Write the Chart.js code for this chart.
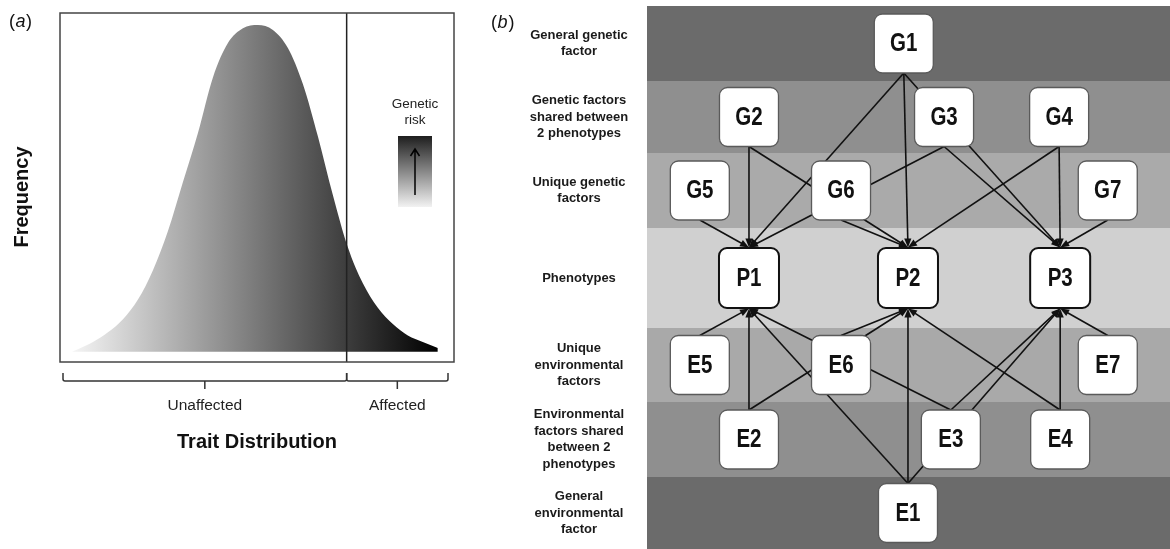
<!DOCTYPE html>
<html>
<head>
<meta charset="utf-8">
<title>Trait distribution and factor model</title>
<script src="https://cdn.jsdelivr.net/npm/chart.js"></script>
<style>
  body { margin: 0; background: #fff; }
  #wrap { position: relative; width: 1170px; height: 549px; overflow: hidden; }
  #chartA { position: absolute; left: 0; top: 0; }
  #chartB { position: absolute; left: 480px; top: 0; }
</style>
</head>
<body>
<div id="wrap">
  <canvas id="chartA" width="470" height="549"></canvas>
  <canvas id="chartB" width="690" height="549"></canvas>
</div>
<script>
/* panel (a) - trait distribution (z units, peak = 1) */
var traitZ    = [-3.1, -3.0, -2.75, -2.5, -2.25, -2.0, -1.75, -1.5, -1.25, -1.0, -0.75, -0.5, -0.25, 0,
                 0.25, 0.5, 0.75, 1.0, 1.25, 1.5, 1.75, 2.0, 2.25, 2.5, 2.75, 3.0];
var frequency = [0, 0.008, 0.03, 0.06, 0.10, 0.16, 0.25, 0.37, 0.52, 0.67, 0.84, 0.945, 0.99, 1.0,
                 0.985, 0.93, 0.82, 0.66, 0.48, 0.32, 0.21, 0.135, 0.085, 0.05, 0.03, 0.012];
var threshold = 1.48;
var groupLabels = ['Unaffected', 'Affected'];

/* panel (b) - factor model */
var bandLabels = [
  ['General genetic', 'factor'],
  ['Genetic factors', 'shared between', '2 phenotypes'],
  ['Unique genetic', 'factors'],
  ['Phenotypes'],
  ['Unique', 'environmental', 'factors'],
  ['Environmental', 'factors shared', 'between 2', 'phenotypes'],
  ['General', 'environmental', 'factor']
];
var bandHeights = [75, 72, 75, 100, 74, 75, 72];
var bandColors = ['#6b6b6b', '#8f8f8f', '#aaaaaa', '#d0d0d0', '#a9a9a9', '#8f8f8f', '#6b6b6b'];

var nodeNames = ['G1', 'G2', 'G3', 'G4', 'G5', 'G6', 'G7', 'P1', 'P2', 'P3',
                 'E5', 'E6', 'E7', 'E2', 'E3', 'E4', 'E1'];
var nodeX     = [49.1, 19.5, 56.8, 78.8, 10.1, 37.1, 88.1, 19.5, 49.9, 79.0,
                 10.1, 37.1, 88.1, 19.5, 58.1, 79.0, 49.9];
var nodeRow   = [0, 1, 1, 1, 2, 2, 2, 3, 3, 3, 4, 4, 4, 5, 5, 5, 6];

var edgeFrom = ['G1', 'G2', 'G3', 'G5', 'E1', 'E2', 'E3', 'E5',
                'G1', 'G2', 'G4', 'G6', 'E1', 'E2', 'E4', 'E6',
                'G1', 'G3', 'G4', 'G7', 'E1', 'E3', 'E4', 'E7'];
var edgeTo   = ['P1', 'P1', 'P1', 'P1', 'P1', 'P1', 'P1', 'P1',
                'P2', 'P2', 'P2', 'P2', 'P2', 'P2', 'P2', 'P2',
                'P3', 'P3', 'P3', 'P3', 'P3', 'P3', 'P3', 'P3'];

var FONT = "'Liberation Sans', Arial, Helvetica, sans-serif";

/* ---------- panel a ---------- */

var panelA = {
  id: 'panelA',
  afterDatasetsDraw: function(chart) {
    var c = chart.ctx, a = chart.chartArea;
    var x = chart.scales.x;
    var tx = x.getPixelForValue(threshold);

    c.save();
    // threshold line
    c.strokeStyle = '#222';
    c.lineWidth = 1.5;
    c.beginPath();
    c.moveTo(tx, a.top);
    c.lineTo(tx, a.bottom);
    c.stroke();

    // frame
    c.strokeStyle = '#444';
    c.lineWidth = 1.5;
    c.strokeRect(a.left, a.top, a.right - a.left, a.bottom - a.top);

    // genetic risk key
    c.fillStyle = '#222';
    c.font = '13.5px ' + FONT;
    c.textAlign = 'center';
    c.textBaseline = 'alphabetic';
    c.fillText('Genetic', 415, 108);
    c.fillText('risk', 415, 124);
    var g = c.createLinearGradient(0, 136, 0, 207);
    g.addColorStop(0, '#1e1e1e');
    g.addColorStop(1, '#f2f2f2');
    c.fillStyle = g;
    c.fillRect(398, 136, 34, 71);
    c.strokeStyle = '#000';
    c.lineWidth = 1.5;
    c.beginPath();
    c.moveTo(415, 195);
    c.lineTo(415, 149);
    c.moveTo(410.5, 156);
    c.lineTo(415, 149);
    c.lineTo(419.5, 156);
    c.stroke();

    // brackets under the axis
    var spans = [[a.left + 3, tx], [tx, a.right - 6]];
    c.strokeStyle = '#333';
    c.lineWidth = 1.5;
    spans.forEach(function(s, i) {
      var mid = (s[0] + s[1]) / 2;
      c.beginPath();
      c.moveTo(s[0], a.bottom + 11);
      c.lineTo(s[0], a.bottom + 17);
      c.quadraticCurveTo(s[0], a.bottom + 19, s[0] + 2, a.bottom + 19);
      c.lineTo(s[1] - 2, a.bottom + 19);
      c.quadraticCurveTo(s[1], a.bottom + 19, s[1], a.bottom + 17);
      c.lineTo(s[1], a.bottom + 11);
      c.moveTo(mid, a.bottom + 19);
      c.lineTo(mid, a.bottom + 27);
      c.stroke();
      c.fillStyle = '#222';
      c.font = '15.5px ' + FONT;
      c.fillText(groupLabels[i], mid, a.bottom + 48);
    });

    // axis titles
    c.fillStyle = '#111';
    c.font = 'bold 20px ' + FONT;
    c.fillText('Trait Distribution', (a.left + a.right) / 2, 448);
    c.save();
    c.translate(28, 197);
    c.rotate(-Math.PI / 2);
    c.fillText('Frequency', 0, 0);
    c.restore();

    // panel letter
    c.textAlign = 'left';
    c.font = '18px ' + FONT;
    c.fillText('(', 9, 27);
    c.font = 'italic 18px ' + FONT;
    c.fillText('a', 15.5, 27);
    c.font = '18px ' + FONT;
    c.fillText(')', 26, 27);
    c.restore();
  }
};

new Chart(document.getElementById('chartA'), {
  type: 'line',
  data: {
    datasets: [{
      data: traitZ.map(function(z, i) { return { x: z, y: frequency[i] }; }),
      fill: 'origin',
      borderWidth: 0,
      borderColor: 'rgba(0,0,0,0)',
      pointRadius: 0,
      cubicInterpolationMode: 'monotone',
      backgroundColor: function(ctx) {
        var chart = ctx.chart;
        if (!chart.chartArea) return '#888';
        var x = chart.scales.x;
        var g = chart.ctx.createLinearGradient(x.getPixelForValue(traitZ[0]), 0,
                                              x.getPixelForValue(traitZ[traitZ.length - 1]), 0);
        g.addColorStop(0, '#f5f5f5');
        g.addColorStop(1, '#000000');
        return g;
      }
    }]
  },
  options: {
    responsive: false,
    animation: false,
    layout: { padding: { left: 60, right: 16, top: 13, bottom: 187 } },
    plugins: { legend: { display: false }, tooltip: { enabled: false } },
    scales: {
      x: { type: 'linear', min: -3.3, max: 3.27, display: false },
      y: { min: -0.031, max: 1.037, display: false }
    }
  },
  plugins: [panelA]
});

/* ---------- panel b ---------- */

var bandEdges = [0];
bandHeights.forEach(function(h, i) { bandEdges.push(bandEdges[i] + h); });
function rowCenter(r) { return (bandEdges[r] + bandEdges[r + 1]) / 2; }

function boxHalf(name) { return name.charAt(0) === 'P' ? 30 : 29.5; }

var panelB = {
  id: 'panelB',
  beforeDatasetsDraw: function(chart) {
    var c = chart.ctx, a = chart.chartArea;
    var y = chart.scales.y;
    var pts = chart.getDatasetMeta(0).data;

    c.save();
    // bands + their labels
    bandColors.forEach(function(col, i) {
      var top = y.getPixelForValue(bandEdges[i]);
      var bot = y.getPixelForValue(bandEdges[i + 1]);
      c.fillStyle = col;
      c.fillRect(a.left, top, a.right - a.left, bot - top);

      var lines = bandLabels[i];
      var mid = (top + bot) / 2;
      c.fillStyle = '#1a1a1a';
      c.font = 'bold 13px ' + FONT;
      c.textAlign = 'center';
      c.textBaseline = 'middle';
      lines.forEach(function(t, k) {
        c.fillText(t, a.left - 68, mid + (k - (lines.length - 1) / 2) * 16.5);
      });
    });

    // arrows
    c.strokeStyle = '#111';
    c.fillStyle = '#111';
    c.lineWidth = 1.6;
    edgeFrom.forEach(function(f, i) {
      var s = pts[nodeNames.indexOf(f)];
      var t = pts[nodeNames.indexOf(edgeTo[i])];
      var dir = s.y < t.y ? 1 : -1;
      var sx = s.x, sy = s.y + dir * boxHalf(f);
      var ex = t.x, ey = t.y - dir * (boxHalf(edgeTo[i]) + 0.5);
      var ang = Math.atan2(ey - sy, ex - sx);
      c.beginPath();
      c.moveTo(sx, sy);
      c.lineTo(ex - 6 * Math.cos(ang), ey - 6 * Math.sin(ang));
      c.stroke();
      c.beginPath();
      c.moveTo(ex, ey);
      c.lineTo(ex - 9 * Math.cos(ang) + 3.6 * Math.sin(ang), ey - 9 * Math.sin(ang) - 3.6 * Math.cos(ang));
      c.lineTo(ex - 9 * Math.cos(ang) - 3.6 * Math.sin(ang), ey - 9 * Math.sin(ang) + 3.6 * Math.cos(ang));
      c.closePath();
      c.fill();
    });

    // panel letter
    c.fillStyle = '#111';
    c.textAlign = 'left';
    c.textBaseline = 'alphabetic';
    c.font = '18px ' + FONT;
    c.fillText('(', 11, 28);
    c.font = 'italic 18px ' + FONT;
    c.fillText('b', 17.5, 28);
    c.font = '18px ' + FONT;
    c.fillText(')', 28.5, 28);
    c.restore();
  },
  afterDatasetsDraw: function(chart) {
    var c = chart.ctx;
    var pts = chart.getDatasetMeta(0).data;
    c.save();
    pts.forEach(function(p, i) {
      var name = nodeNames[i];
      var h = boxHalf(name);
      var isP = name.charAt(0) === 'P';
      c.beginPath();
      c.roundRect(p.x - h, p.y - h, 2 * h, 2 * h, 8);
      c.fillStyle = '#fff';
      c.fill();
      c.strokeStyle = isP ? '#111' : '#5a5a5a';
      c.lineWidth = isP ? 2 : 1.3;
      c.stroke();

      c.save();
      c.translate(p.x, p.y + 1);
      c.scale(0.82, 1);
      c.fillStyle = '#111';
      c.font = 'bold 25px ' + FONT;
      c.textAlign = 'center';
      c.textBaseline = 'middle';
      c.fillText(name, 0, 0);
      c.restore();
    });
    c.restore();
  }
};

new Chart(document.getElementById('chartB'), {
  type: 'scatter',
  data: {
    datasets: [{
      data: nodeNames.map(function(n, i) { return { x: nodeX[i], y: rowCenter(nodeRow[i]) }; }),
      pointRadius: 0,
      pointHoverRadius: 0
    }]
  },
  options: {
    responsive: false,
    animation: false,
    layout: { padding: { left: 167, top: 6, right: 0, bottom: 0 } },
    plugins: { legend: { display: false }, tooltip: { enabled: false } },
    scales: {
      x: { type: 'linear', min: 0, max: 100, display: false },
      y: { type: 'linear', min: 0, max: bandEdges[bandEdges.length - 1], reverse: true, display: false }
    }
  },
  plugins: [panelB]
});
</script>
</body>
</html>
